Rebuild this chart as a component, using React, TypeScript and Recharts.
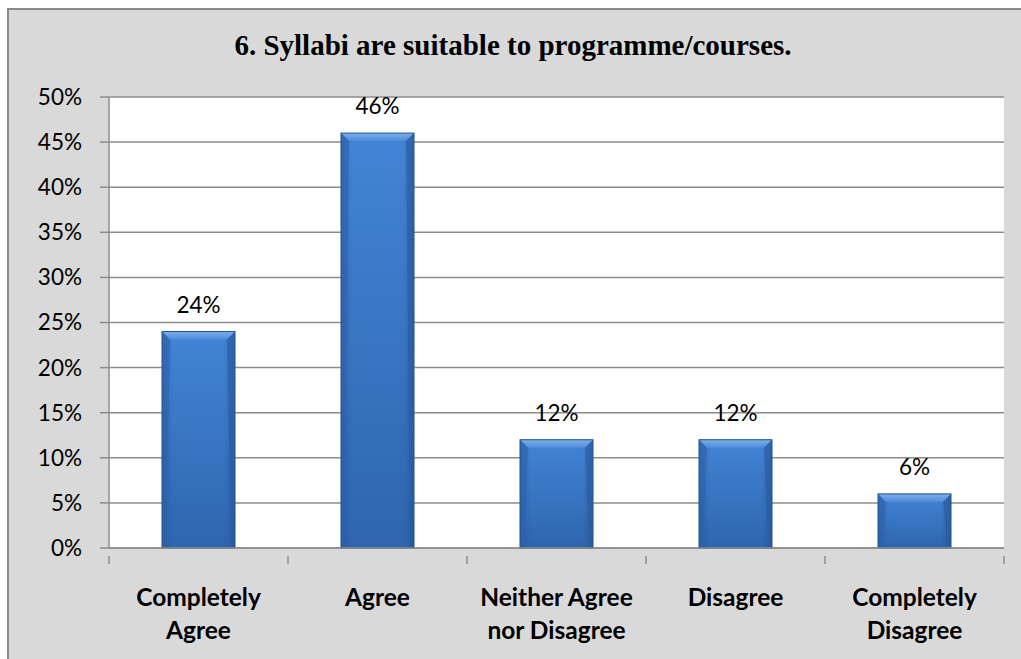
import React from 'react';
import { BarChart, Bar, XAxis, YAxis, CartesianGrid, LabelList } from 'recharts';

const categories = ['Completely Agree', 'Agree', 'Neither Agree nor Disagree', 'Disagree', 'Completely Disagree'];
const categoryLines = [['Completely', 'Agree'], ['Agree'], ['Neither Agree', 'nor Disagree'], ['Disagree'], ['Completely', 'Disagree']];
const values = [0.24, 0.46, 0.12, 0.12, 0.06];
const yTicks = [0, 0.05, 0.1, 0.15, 0.2, 0.25, 0.3, 0.35, 0.4, 0.45, 0.5];
const title = '6. Syllabi are suitable to programme/courses.';

const data = categories.map((c, i) => ({ name: c, value: values[i], lines: categoryLines[i] }));

const W = 1021;
const H = 659;
const M = { top: 97, right: 17, bottom: 0, left: 9 };
const YW = 100;
const XH = 111;
const plotW = W - M.left - YW - M.right;
const band = plotW / categories.length;
const FONT = 'Lato, "Open Sans", sans-serif';
const SERIF = "'Liberation Serif', 'Times New Roman', Times, 'DejaVu Serif', serif";
const GRID = '#8c8c8c';

const pct = (v: number) => `${Math.round(v * 100)}%`;

const XTick = (props: any) => {
  const { x, y, payload, index } = props;
  const lines: string[] = categoryLines[index] || [payload.value];
  const half = band / 2;
  return (
    <g>
      <line x1={x - half} y1={y} x2={x - half} y2={y + 8} stroke={GRID} strokeWidth={1.5} />
      {index === categories.length - 1 && (
        <line x1={x + half} y1={y} x2={x + half} y2={y + 8} stroke={GRID} strokeWidth={1.5} />
      )}
      <text x={x} y={y + 50} textAnchor="middle" fontFamily={FONT} fontWeight={700} fontSize={24.5} fill="#000">
        {lines.map((l, i) => (
          <tspan key={i} x={x} dy={i === 0 ? 0 : 33}>{l}</tspan>
        ))}
      </text>
    </g>
  );
};

const BevelBar = (props: any) => {
  const { x, y, width, height } = props;
  if (!height || height <= 0) return null;
  const b = Math.min(8, height / 2);
  const s = 4;
  return (
    <g>
      <rect x={x} y={y} width={width} height={height} fill="url(#barV)" />
      <rect x={x} y={y} width={width} height={height} fill="url(#barH)" />
      <polygon points={`${x},${y} ${x + width},${y} ${x + width - b},${y + b} ${x + b},${y + b}`} fill="url(#bevelTop)" />
      <polygon points={`${x},${y} ${x + b},${y + b} ${x + s},${y + height} ${x},${y + height}`} fill="#2e63ab" opacity={0.6} />
      <polygon points={`${x + width},${y} ${x + width - b},${y + b} ${x + width - s},${y + height} ${x + width},${y + height}`} fill="#2a5a9c" opacity={0.6} />
      <rect x={x} y={y} width={width} height={height} fill="none" stroke="#23508e" strokeWidth={1} />
    </g>
  );
};

export default function App() {
  return (
    <div style={{ position: 'absolute', left: 0, top: 0, width: W, height: H, background: '#fff', overflow: 'hidden' }}>
      <div
        style={{
          position: 'absolute',
          left: 7,
          top: 8,
          width: W - 7,
          height: H - 8,
          background: '#d9d9d9',
          borderTop: '2px solid #8a8a8a',
          borderLeft: '2px solid #8a8a8a',
          boxSizing: 'border-box',
        }}
      />
      <div
        style={{
          position: 'absolute',
          left: 5,
          width: W - 5,
          top: 27,
          textAlign: 'center',
          fontFamily: SERIF,
          fontWeight: 700,
          fontSize: 29,
          lineHeight: '36px',
          color: '#000',
        }}
      >
        {title}
      </div>
      <div style={{ position: 'absolute', left: 0, top: 0 }}>
        <BarChart width={W} height={H} data={data} margin={M} barSize={73}>
          <defs>
            <linearGradient id="barV" x1="0" y1="0" x2="0" y2="1">
              <stop offset="0%" stopColor="#4284d6" />
              <stop offset="100%" stopColor="#2f66ae" />
            </linearGradient>
            <linearGradient id="barH" x1="0" y1="0" x2="1" y2="0">
              <stop offset="0%" stopColor="#1d4a86" stopOpacity={0.35} />
              <stop offset="15%" stopColor="#1d4a86" stopOpacity={0} />
              <stop offset="85%" stopColor="#1d4a86" stopOpacity={0} />
              <stop offset="100%" stopColor="#1d4a86" stopOpacity={0.35} />
            </linearGradient>
            <linearGradient id="bevelTop" x1="0" y1="0" x2="0" y2="1">
              <stop offset="0%" stopColor="#7eb0ec" />
              <stop offset="100%" stopColor="#4d8bd9" />
            </linearGradient>
          </defs>
          <CartesianGrid vertical={false} stroke={GRID} strokeWidth={1.5} fill="#ffffff" fillOpacity={1} />
          <XAxis
            dataKey="name"
            height={XH}
            interval={0}
            tickLine={false}
            axisLine={{ stroke: GRID, strokeWidth: 1.5 }}
            tick={<XTick />}
          />
          <YAxis
            width={YW}
            domain={[0, 0.5]}
            ticks={yTicks}
            tickFormatter={pct}
            tickSize={9}
            tickMargin={18}
            tickLine={{ stroke: GRID, strokeWidth: 1.5 }}
            axisLine={{ stroke: GRID, strokeWidth: 1.5 }}
            tick={{ fontFamily: FONT, fontSize: 22.5, fill: '#000' }}
          />
          <Bar dataKey="value" isAnimationActive={false} shape={<BevelBar />}>
            <LabelList dataKey="value" position="top" offset={19} formatter={pct} style={{ fontFamily: FONT, fontSize: 22.5, fill: '#000' }} />
          </Bar>
        </BarChart>
      </div>
    </div>
  );
}
